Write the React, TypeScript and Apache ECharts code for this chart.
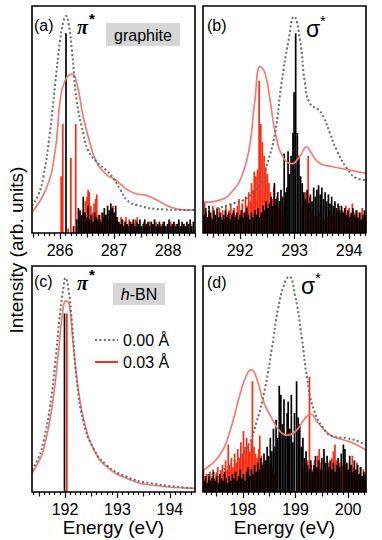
import React, { useEffect, useRef } from "react";
import * as echarts from "echarts";

const FONT = '"Liberation Sans", Arial, Helvetica, sans-serif';

// ---------- axis ranges & tick labels ----------
const aRange = [285.48, 288.5];
const bRange = [291.32, 294.31];
const cRange = [191.37, 194.48];
const dRange = [197.24, 200.34];
const aTicks = [286, 287, 288];
const bTicks = [292, 293, 294];
const cTicks = [192, 193, 194];
const dTicks = [198, 199, 200];

// ---------- (a) graphite pi* ----------
const aGray = [[285.48,12],[285.6,17],[285.69,24.6],[285.81,43.9],[285.91,65.8],[286.0,84.6],[286.06,93],[286.11,95.6],[286.16,92],[286.22,80.3],[286.31,58],[286.43,44],[286.52,36.4],[286.68,31.3],[286.87,27.3],[286.99,24],[287.12,18.9],[287.24,14.5],[287.42,12.3],[287.92,10.4],[288.5,10.1]];
const aRed = [[285.48,9.2],[285.75,20],[285.91,36.4],[286.0,58],[286.09,67],[286.22,70],[286.31,66],[286.43,51],[286.55,40],[286.68,31],[286.87,25.5],[286.99,24],[287.1,22],[287.25,19],[287.42,17.2],[287.6,16.6],[287.79,14.5],[288.04,11.5],[288.29,10.2],[288.5,10.1]];
const aBlackSticks = [[286.11,88],[286.25,3],[286.31,6],[286.34,11],[286.37,10],[286.40,8],[286.43,16],[286.46,9],[286.49,7],[286.52,12],[286.55,6],[286.58,8],[286.61,5],[286.64,9],[286.67,7],[286.70,6],[286.73,8],[286.76,5],[286.79,9],[286.82,11],[286.85,8],[286.88,12],[286.91,10],[286.94,13],[286.97,11],[287.00,9],[287.03,12],[287.06,7],[287.09,5],[287.12,4],[287.15,6],[287.18,3],[287.21,5],[287.24,4],[287.27,3],[287.30,5],[287.33,4],[287.36,6],[287.39,3],[287.42,5],[287.45,4],[287.48,6],[287.51,3],[287.54,4],[287.57,6],[287.60,4],[287.63,5],[287.66,3],[287.69,5],[287.72,4],[287.75,6],[287.78,3],[287.81,4],[287.84,5],[287.87,3],[287.90,4],[287.93,5],[287.96,3],[287.99,4],[288.02,6],[288.05,3],[288.08,4],[288.11,5],[288.14,3],[288.17,4],[288.20,6],[288.23,3],[288.26,5],[288.29,4],[288.32,3],[288.35,5],[288.38,4],[288.41,6],[288.44,3],[288.47,5]];
const aRedSticks = [[286.02,25],[286.05,48],[286.15,2],[286.20,33],[286.29,48],[286.36,6],[286.42,10],[286.47,14],[286.50,16],[286.52,19],[286.54,18],[286.57,12],[286.60,9],[286.63,13],[286.66,15],[286.68,17],[286.71,8],[286.74,6],[286.77,9],[286.80,7],[286.83,5],[286.86,8],[286.89,6],[286.92,10],[286.95,11],[286.98,12],[287.01,9],[287.04,7],[287.07,5],[287.10,4],[287.13,7],[287.16,6],[287.19,5],[287.22,7],[287.25,4],[287.28,6],[287.31,3],[287.34,5],[287.37,4],[287.40,6],[287.43,7],[287.46,4],[287.50,3],[287.55,5],[287.58,3],[287.62,4],[287.66,5],[287.70,3],[287.74,4],[287.78,5],[287.82,3],[287.86,4],[287.91,5],[287.95,3],[288.00,4],[288.05,5],[288.10,3],[288.15,4],[288.20,5],[288.25,3],[288.30,4],[288.36,3],[288.42,4]];

// ---------- (b) graphite sigma* ----------
const bGray = [[291.33,10.1],[291.58,10.9],[291.88,13.1],[292.06,14.5],[292.25,18.2],[292.39,23],[292.49,29.7],[292.64,43.9],[292.76,65.9],[292.89,85],[292.99,95.3],[293.1,85],[293.19,66],[293.28,57.1],[293.44,54.2],[293.53,51.2],[293.65,43.9],[293.77,36.6],[293.96,28.5],[294.14,24.1],[294.31,23.3]];
const bRed = [[291.33,13.5],[291.63,14.5],[291.88,19],[292.06,27],[292.18,39],[292.27,58],[292.37,73.3],[292.46,70.3],[292.55,58.6],[292.66,42.5],[292.8,33],[292.95,30.5],[293.1,34],[293.22,38],[293.31,35],[293.46,30.7],[293.7,29.2],[294.0,27.8],[294.31,26.2]];
const bBlackSticks = [[291.34,8],[291.37,11],[291.40,7],[291.43,12],[291.46,9],[291.49,6],[291.52,10],[291.55,8],[291.58,11],[291.61,7],[291.64,9],[291.67,6],[291.70,8],[291.73,10],[291.76,7],[291.79,9],[291.82,6],[291.85,8],[291.88,10],[291.91,7],[291.94,9],[291.97,6],[292.00,8],[292.03,10],[292.06,7],[292.09,9],[292.12,11],[292.15,8],[292.18,6],[292.21,9],[292.24,7],[292.27,10],[292.30,8],[292.33,11],[292.36,7],[292.39,9],[292.42,12],[292.45,10],[292.48,14],[292.51,11],[292.54,13],[292.57,16],[292.60,12],[292.63,22],[292.66,15],[292.69,18],[292.72,14],[292.75,19],[292.78,16],[292.81,35],[292.84,18],[292.86,20],[292.88,36],[292.905,26],[292.935,34],[292.97,44],[292.99,62],[293.02,88],[293.05,44],[293.08,34],[293.11,25],[293.14,22],[293.17,18],[293.20,15],[293.23,19],[293.26,13],[293.29,17],[293.32,14],[293.35,20],[293.38,16],[293.41,19],[293.44,21],[293.47,17],[293.50,20],[293.53,15],[293.56,18],[293.59,14],[293.62,17],[293.65,13],[293.68,16],[293.71,12],[293.74,14],[293.77,11],[293.80,13],[293.83,10],[293.86,12],[293.89,9],[293.92,11],[293.95,8],[293.98,10],[294.01,7],[294.04,9],[294.07,11],[294.10,8],[294.13,10],[294.16,7],[294.19,9],[294.22,6],[294.25,8],[294.28,10],[294.30,7]];
const bRedSticks = [[291.35,14],[291.38,9],[291.41,6],[291.44,10],[291.47,7],[291.50,12],[291.53,8],[291.56,5],[291.59,9],[291.62,11],[291.65,7],[291.68,10],[291.71,6],[291.74,12],[291.77,8],[291.80,10],[291.83,13],[291.86,9],[291.89,11],[291.92,8],[291.95,12],[291.98,15],[292.01,10],[292.04,13],[292.07,9],[292.10,16],[292.13,12],[292.16,18],[292.19,14],[292.21,22],[292.24,19],[292.26,27],[292.29,25],[292.32,28],[292.35,67],[292.38,48],[292.41,40],[292.44,34],[292.47,29],[292.50,26],[292.53,22],[292.56,18],[292.59,15],[292.62,20],[292.65,13],[292.68,16],[292.71,11],[292.74,14],[292.77,10],[292.80,12],[292.83,9],[293.14,12],[293.17,15],[293.20,18],[293.23,14],[293.25,34],[293.28,16],[293.31,10],[293.34,12],[293.37,8],[293.40,10],[293.43,7],[293.46,9],[293.49,11],[293.52,8],[293.55,6],[293.58,9],[293.61,7],[293.64,10],[293.67,6],[293.70,8],[293.73,11],[293.76,7],[293.79,9],[293.82,12],[293.85,8],[293.88,10],[293.91,7],[293.94,12],[293.97,9],[294.00,11],[294.03,8],[294.06,13],[294.09,9],[294.12,7],[294.15,10],[294.18,6],[294.21,9],[294.24,11],[294.27,7],[294.30,8]];

// ---------- (c) h-BN pi* ----------
const cGray = [[191.37,9.8],[191.5,15.5],[191.59,22.4],[191.71,37.2],[191.81,56.4],[191.89,75.7],[191.97,90.5],[192.01,94.7],[192.06,90.5],[192.13,75.7],[192.22,50.5],[192.35,31.2],[192.54,19.4],[192.79,12],[193.17,6.8],[193.62,3.9],[194.48,1.6]];
const cRed = [[191.37,8.3],[191.5,13.5],[191.59,18.7],[191.74,35.7],[191.87,60.9],[191.95,78.7],[192.02,84.6],[192.08,83.1],[192.15,66.8],[192.25,46.1],[192.38,29.8],[192.57,17.9],[192.79,11.2],[193.17,6.1],[193.62,3.1],[194.48,1.6]];
const cBlackSticks = [[191.99,79]];
const cRedSticks = [[192.035,79]];

// ---------- (d) h-BN sigma* ----------
const dGray = [[197.24,6.5],[197.28,6.8],[197.56,9],[197.82,13.4],[198.07,19.3],[198.26,31.1],[198.42,45.9],[198.55,63.6],[198.67,81.3],[198.8,93],[198.88,95.3],[198.99,87.2],[199.12,68],[199.22,50.3],[199.34,37],[199.53,28.2],[199.72,24.5],[199.98,23.8],[200.17,22.6],[200.34,20.8]];
const dRed = [[197.25,9.7],[197.56,16.4],[197.75,26.7],[197.94,42.9],[198.07,51.8],[198.16,54],[198.26,50.3],[198.39,40],[198.55,32.6],[198.71,26.7],[198.86,25.2],[199.02,27.4],[199.18,32.6],[199.29,34.4],[199.41,31.1],[199.66,25.2],[199.92,23],[200.11,21.5],[200.34,18.6]];
const dBlackSticks = [[197.26,5],[197.29,7],[197.32,4],[197.35,8],[197.38,5],[197.41,6],[197.44,9],[197.47,5],[197.50,7],[197.53,4],[197.56,8],[197.59,6],[197.62,5],[197.65,9],[197.68,6],[197.71,4],[197.74,7],[197.77,5],[197.80,8],[197.83,6],[197.86,9],[197.89,5],[197.92,7],[197.95,10],[197.98,6],[198.01,8],[198.04,5],[198.07,9],[198.10,11],[198.13,7],[198.16,10],[198.19,8],[198.22,12],[198.25,9],[198.28,13],[198.31,10],[198.34,15],[198.37,12],[198.40,17],[198.43,14],[198.46,20],[198.49,16],[198.52,24],[198.55,18],[198.58,28],[198.61,20],[198.63,32],[198.66,24],[198.69,47],[198.72,43],[198.75,30],[198.78,41],[198.81,25],[198.84,35],[198.86,40],[198.89,28],[198.92,43],[198.95,22],[198.98,35],[199.02,49],[199.05,33],[199.08,30],[199.11,20],[199.14,24],[199.17,15],[199.20,18],[199.23,12],[199.26,10],[199.29,14],[199.32,9],[199.35,12],[199.38,16],[199.41,11],[199.44,14],[199.47,10],[199.50,15],[199.54,19],[199.57,13],[199.60,16],[199.63,11],[199.66,14],[199.69,10],[199.72,13],[199.75,9],[199.78,12],[199.81,15],[199.84,11],[199.87,17],[199.91,21],[199.94,19],[199.97,13],[200.00,10],[200.03,16],[200.06,12],[200.09,9],[200.12,14],[200.15,10],[200.18,12],[200.21,8],[200.24,11],[200.27,7],[200.30,9],[200.33,6]];
const dRedSticks = [[197.25,10],[197.28,6],[197.31,8],[197.34,5],[197.37,9],[197.40,7],[197.43,10],[197.46,6],[197.49,8],[197.52,11],[197.55,7],[197.58,9],[197.61,12],[197.64,8],[197.67,14],[197.70,10],[197.72,21],[197.75,12],[197.78,15],[197.81,11],[197.84,17],[197.87,13],[197.90,19],[197.93,15],[197.96,22],[197.99,17],[198.01,27],[198.04,20],[198.07,24],[198.10,21],[198.13,18],[198.16,23],[198.18,49],[198.21,20],[198.24,17],[198.27,15],[198.30,19],[198.32,25],[198.35,16],[198.38,13],[198.41,11],[198.44,14],[198.47,10],[198.50,12],[198.53,9],[198.56,11],[198.59,8],[199.14,10],[199.17,12],[199.20,9],[199.23,14],[199.265,51],[199.30,12],[199.33,10],[199.36,14],[199.39,11],[199.42,16],[199.45,19],[199.48,13],[199.51,10],[199.54,15],[199.57,12],[199.60,9],[199.63,13],[199.66,10],[199.69,15],[199.72,18],[199.75,21],[199.78,14],[199.81,11],[199.84,13],[199.87,9],[199.90,12],[199.93,15],[199.96,10],[199.99,13],[200.02,9],[200.05,12],[200.08,16],[200.11,11],[200.14,9],[200.17,13],[200.20,8],[200.23,11],[200.26,7],[200.29,10],[200.32,8]];

// ---------- layout ----------
const GRIDS = [
  { left: 32, top: 6, width: 163, height: 227 },
  { left: 203, top: 6, width: 163, height: 227 },
  { left: 32, top: 266, width: 163, height: 226 },
  { left: 203, top: 266, width: 163, height: 226 },
];

const GRAY = "#6a6a6a";
const SALMON = "#f47c77";
const STICK_RED = "#ff2a10";

function tickSets(range: number[]) {
  const half: number[] = [];
  const minor: number[] = [];
  for (let i = Math.ceil(range[0] * 10); i <= Math.floor(range[1] * 10); i++) {
    if (i % 10 === 0) continue;
    if (i % 5 === 0) half.push(i / 10);
    else minor.push(i / 10);
  }
  return { half, minor };
}

function buildOption() {
  const ranges = [aRange, bRange, cRange, dRange];
  const majors = [aTicks, bTicks, cTicks, dTicks];
  const tickStyle = { color: "#000", width: 1.2 };
  const xAxes: any[] = [];
  ranges.forEach((r, k) => {
    xAxes.push({
      type: "value", gridIndex: k, min: r[0], max: r[1], position: "bottom",
      axisLine: { show: false }, splitLine: { show: false },
      axisTick: { show: true, inside: false, length: 6, lineStyle: tickStyle, customValues: majors[k] },
      axisLabel: { show: true, customValues: majors[k], margin: 9, color: "#000", fontSize: 16, fontFamily: FONT, formatter: (v: number) => String(Math.round(v)) },
    });
  });
  ranges.forEach((r, k) => {
    xAxes.push({
      type: "value", gridIndex: k, min: r[0], max: r[1], position: "bottom",
      axisLine: { show: false }, splitLine: { show: false }, axisLabel: { show: false },
      axisTick: { show: true, inside: false, length: 4.5, lineStyle: tickStyle, customValues: tickSets(r).half },
    });
  });
  ranges.forEach((r, k) => {
    xAxes.push({
      type: "value", gridIndex: k, min: r[0], max: r[1], position: "bottom",
      axisLine: { show: false }, splitLine: { show: false }, axisLabel: { show: false },
      axisTick: { show: true, inside: false, length: 3, lineStyle: tickStyle, customValues: tickSets(r).minor },
    });
  });
  const yAxes = GRIDS.map((_, k) => ({ type: "value", gridIndex: k, min: 0, max: 100, show: false }));

  const sticks = (k: number, data: number[][], color: string, z: number) => ({
    type: "custom", xAxisIndex: k, yAxisIndex: k, data, z, silent: true,
    encode: { x: 0, y: 1 },
    renderItem: (_p: any, api: any) => {
      const x = api.value(0);
      const h = api.value(1);
      const p0 = api.coord([x, 0]);
      const p1 = api.coord([x, h]);
      return { type: "line", shape: { x1: p0[0], y1: p0[1], x2: p1[0], y2: p1[1] }, style: { stroke: color, lineWidth: 1.7 } };
    },
  });
  const curve = (k: number, data: number[][], dotted: boolean) => ({
    type: "line", xAxisIndex: k, yAxisIndex: k, data, smooth: 0.5,
    symbol: "none", showSymbol: false, silent: true, z: dotted ? 5 : 4,
    lineStyle: dotted ? { color: GRAY, width: 2, type: [2, 2.4] } : { color: SALMON, width: 1.7 },
  });

  const panels = [
    [aRedSticks, aBlackSticks, aRed, aGray],
    [bRedSticks, bBlackSticks, bRed, bGray],
    [cRedSticks, cBlackSticks, cRed, cGray],
    [dRedSticks, dBlackSticks, dRed, dGray],
  ];
  const series: any[] = [];
  panels.forEach((p, k) => {
    series.push(sticks(k, p[0], STICK_RED, 2));
    series.push(sticks(k, p[1], "#000", 3));
    series.push(curve(k, p[2], false));
    series.push(curve(k, p[3], true));
  });

  const txt = (x: number, y: number, text: string, font: string, align = "left", extra: any = {}) => ({
    type: "text", x, y, z: 50, silent: true,
    style: { text, font, fill: "#000", textAlign: align, textVerticalAlign: "middle", ...extra },
  });
  const graphic: any[] = [];
  GRIDS.forEach((g) => {
    graphic.push({ type: "rect", z: 100, silent: true, shape: { x: g.left, y: g.top, width: g.width, height: g.height }, style: { fill: "none", stroke: "#000", lineWidth: 1.6 } });
  });
  // labels panel (a)
  graphic.push(txt(34, 25, "(a)", `16px ${FONT}`));
  graphic.push(txt(77, 27, "π", `italic bold 20px "Liberation Serif", serif`));
  graphic.push(txt(89, 18, "*", `bold 15px ${FONT}`));
  graphic.push({ type: "rect", z: 40, silent: true, shape: { x: 106, y: 23, width: 74, height: 23 }, style: { fill: "#d6d6d6" } });
  graphic.push(txt(143, 35, "graphite", `16px ${FONT}`, "center"));
  // panel (b)
  graphic.push(txt(207, 25, "(b)", `16px ${FONT}`));
  graphic.push(txt(306, 29, "σ", `23px ${FONT}`));
  graphic.push(txt(320, 20, "*", `15px ${FONT}`));
  // panel (c)
  graphic.push(txt(34, 281, "(c)", `16px ${FONT}`));
  graphic.push(txt(77, 283, "π", `italic bold 20px "Liberation Serif", serif`));
  graphic.push(txt(89, 274, "*", `bold 15px ${FONT}`));
  graphic.push({ type: "rect", z: 40, silent: true, shape: { x: 113, y: 283, width: 52, height: 22 }, style: { fill: "#d6d6d6" } });
  graphic.push({
    type: "text", x: 139, y: 294.5, z: 50, silent: true,
    style: { text: "{i|h}-BN", font: `16px ${FONT}`, fill: "#000", textAlign: "center", textVerticalAlign: "middle",
      rich: { i: { fontStyle: "italic", fontSize: 16, fontFamily: FONT, fill: "#000" } } },
  });
  // legend (c)
  graphic.push({ type: "line", z: 50, silent: true, shape: { x1: 95, y1: 340, x2: 118, y2: 340 }, style: { stroke: GRAY, lineWidth: 2, lineDash: [2, 2.4] } });
  graphic.push(txt(123, 340, "0.00 Å", `16px ${FONT}`));
  graphic.push({ type: "line", z: 50, silent: true, shape: { x1: 95, y1: 362, x2: 118, y2: 362 }, style: { stroke: "#f5301c", lineWidth: 2 } });
  graphic.push(txt(123, 362, "0.03 Å", `16px ${FONT}`));
  // panel (d)
  graphic.push(txt(207, 282, "(d)", `16px ${FONT}`));
  graphic.push(txt(301, 286, "σ", `23px ${FONT}`));
  graphic.push(txt(315, 277, "*", `15px ${FONT}`));
  // axis titles
  graphic.push(txt(113.5, 527, "Energy (eV)", `19px ${FONT}`, "center"));
  graphic.push(txt(284.5, 527, "Energy (eV)", `19px ${FONT}`, "center"));
  graphic.push({
    type: "text", x: 16, y: 250, rotation: Math.PI / 2, z: 50, silent: true,
    style: { text: "Intensity (arb. units)", font: `19px ${FONT}`, fill: "#000", textAlign: "center", textVerticalAlign: "middle" },
  });

  return {
    animation: false,
    backgroundColor: "#fff",
    grid: GRIDS.map((g) => ({ ...g, show: false, containLabel: false })),
    xAxis: xAxes,
    yAxis: yAxes,
    series,
    graphic,
  };
}

export default function App() {
  const ref = useRef<HTMLDivElement>(null);
  useEffect(() => {
    if (!ref.current) return;
    const chart = echarts.init(ref.current, null, { renderer: "svg" });
    chart.setOption(buildOption() as any);
    return () => chart.dispose();
  }, []);
  return <div ref={ref} style={{ position: "absolute", left: 0, top: 0, width: 382, height: 540, background: "#fff" }} />;
}
